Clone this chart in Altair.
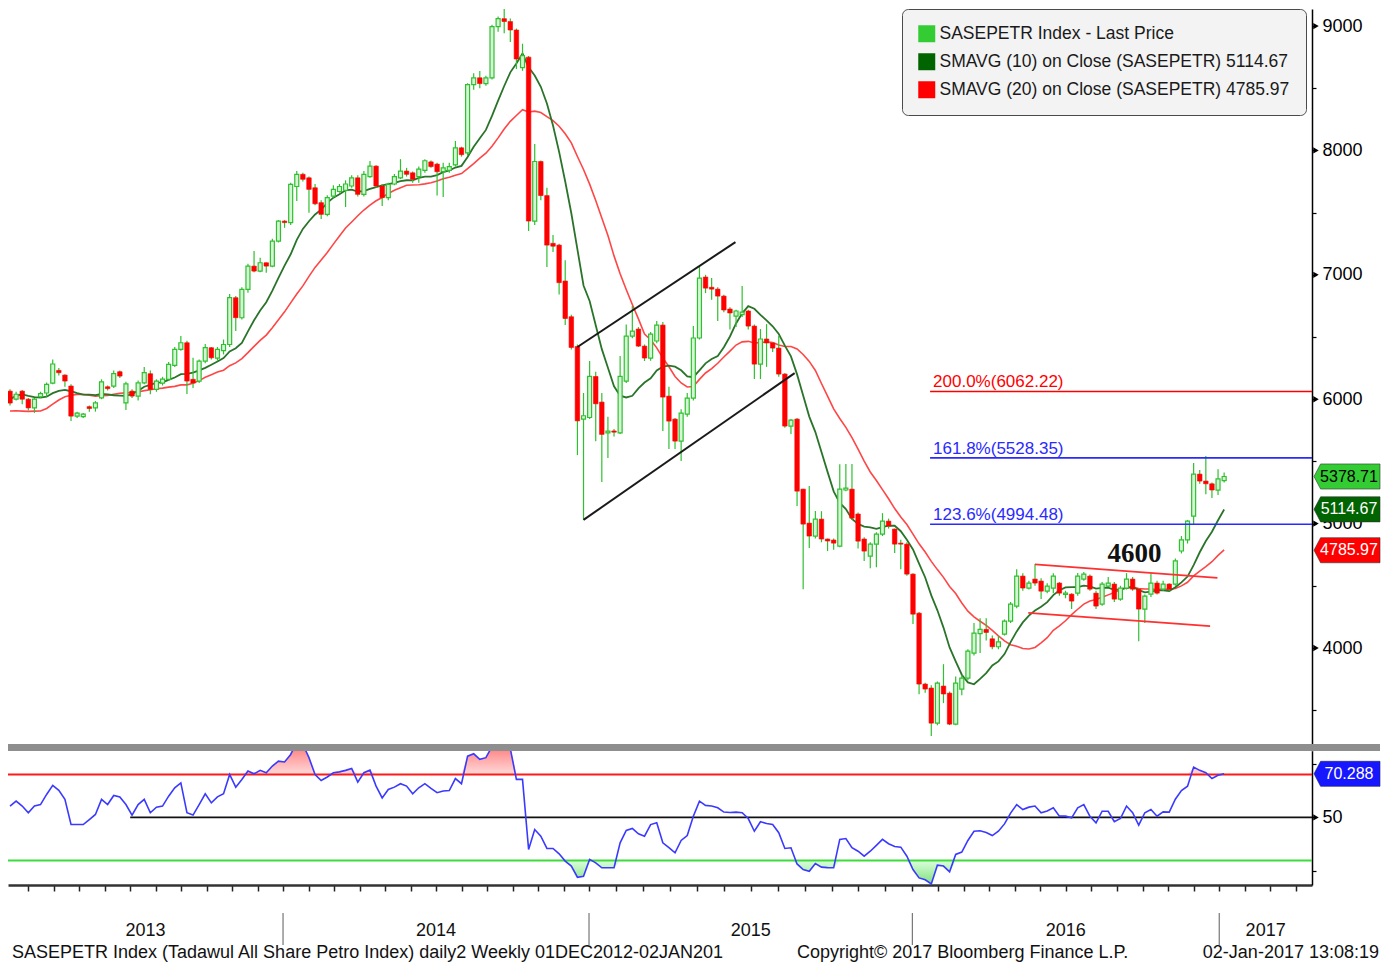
import altair as alt
import pandas as pd

# ---------------- values ----------------
open_ = [
    6065, 6000, 6065, 6000, 5930, 6020, 6050, 6130, 6232, 6194,
    6106, 5864, 5860, 5940, 5931, 6011, 6100, 6106, 6221, 5971,
    6065, 6025, 6132, 6205, 6079, 6130, 6160, 6272, 6400, 6454,
    6160, 6146, 6307, 6414, 6330, 6390, 6440, 6816, 6655, 6883,
    7070, 7030, 7097, 7070, 7271, 7432, 7420, 7710, 7808, 7780,
    7700, 7580, 7486, 7633, 7670, 7680, 7714, 7780, 7647, 7790,
    7874, 7714, 7620, 7730, 7780, 7834, 7820, 7790, 7840, 7908,
    7890, 7830, 7840, 7884, 8021, 7980, 8529, 8584, 8537, 8584,
    8995, 9059, 9036, 8968, 8665, 8750, 7432, 7911, 7637, 7253,
    7239, 6950, 6663, 6424, 5840, 5853, 6183, 5977, 5730, 5745,
    5730, 6146, 6508, 6564, 6427, 6331, 6468, 6596, 6025, 5840,
    5663, 5880, 6009, 6492, 6982, 6900, 6885, 6829, 6725, 6668,
    6680, 6709, 6588, 6282, 6484, 6452, 6411, 6202, 5784, 5840,
    5277, 5004, 4900, 5036, 4876, 4868, 4819, 5270, 5277, 5077,
    4876, 4739, 4835, 4916, 5020, 4956, 4843, 4835, 4594, 4280,
    3710, 3678, 3396, 3694, 3637, 3388, 3670, 3758, 3959, 4115,
    4150, 4074, 4010, 4112, 4216, 4337, 4578, 4482, 4554, 4538,
    4457, 4482, 4522, 4430, 4433, 4441, 4554, 4578, 4441, 4353,
    4498, 4514, 4393, 4482, 4554, 4473, 4313, 4433, 4522, 4473,
    4514, 4514, 4780, 4870, 5060, 5398, 5342, 5320, 5270, 5345,
]
high = [
    6080, 6060, 6075, 6010, 6010, 6060, 6135, 6320, 6250, 6200,
    6120, 5900, 5890, 5950, 5985, 6160, 6110, 6230, 6230, 6140,
    6080, 6150, 6260, 6230, 6160, 6180, 6300, 6420, 6508, 6470,
    6333, 6320, 6443, 6420, 6420, 6480, 6845, 6830, 6900, 7090,
    7191, 7137, 7100, 7290, 7440, 7440, 7740, 7834, 7820, 7790,
    7730, 7600, 7640, 7720, 7730, 7760, 7800, 7800, 7834, 7915,
    7880, 7730, 7740, 7810, 7930, 7860, 7830, 7870, 7930, 7920,
    7900, 7900, 7900, 8075, 8030, 8540, 8620, 8638, 8600, 9010,
    9077, 9140, 9060, 8980, 8858, 8760, 8051, 7920, 7700, 7321,
    7250, 7118, 6680, 6440, 6050, 6307, 6220, 6050, 5860, 5760,
    6347, 6600, 6749, 6580, 6440, 6540, 6628, 6620, 6100, 5850,
    5920, 6049, 6588, 7070, 7000, 6974, 6900, 6840, 6740, 6720,
    6910, 6720, 6600, 6564, 6604, 6460, 6508, 6210, 5840, 5850,
    5280, 5302, 5101, 5100, 4880, 4880, 5478, 5480, 5480, 5090,
    4890, 4850, 4930, 5084, 5040, 4960, 4870, 4850, 4600, 4290,
    3720, 3700, 3730, 3870, 3650, 3770, 3780, 3990, 4200, 4240,
    4240, 4100, 4100, 4230, 4370, 4634, 4600, 4540, 4675, 4560,
    4520, 4600, 4530, 4460, 4440, 4602, 4610, 4590, 4460, 4530,
    4570, 4530, 4500, 4602, 4570, 4480, 4430, 4600, 4540, 4540,
    4520, 4720, 4900, 5030, 5487, 5430, 5543, 5330, 5438, 5410,
]
low = [
    5950, 5990, 5960, 5910, 5890, 6010, 6020, 6120, 6190, 6100,
    5824, 5850, 5850, 5900, 5900, 6000, 6070, 6090, 6170, 5913,
    6010, 5990, 6120, 6040, 6060, 6110, 6150, 6260, 6390, 6041,
    6090, 6130, 6290, 6320, 6310, 6360, 6420, 6548, 6640, 6856,
    7020, 7020, 7017, 7060, 7260, 7378, 7400, 7593, 7750, 7499,
    7560, 7448, 7470, 7620, 7660, 7545, 7700, 7630, 7630, 7780,
    7700, 7553, 7600, 7720, 7770, 7790, 7740, 7740, 7820, 7860,
    7637, 7625, 7820, 7870, 7950, 7960, 8488, 8500, 8520, 8570,
    8954, 8943, 8871, 8654, 8640, 7352, 7400, 7600, 7062, 7183,
    6841, 6596, 6400, 5551, 5030, 5840, 5663, 5334, 5527, 5700,
    5720, 6130, 6490, 6420, 6307, 6310, 6450, 5744, 5599, 5600,
    5503, 5860, 5990, 6480, 6853, 6800, 6628, 6700, 6560, 6580,
    6660, 6560, 6162, 6162, 6260, 6380, 6180, 5770, 5720, 5141,
    4473, 4803, 4880, 4850, 4779, 4790, 4810, 5260, 5030, 4800,
    4699, 4642, 4650, 4900, 4960, 4763, 4634, 4580, 4192, 3629,
    3640, 3292, 3380, 3557, 3380, 3380, 3620, 3740, 3940, 3959,
    4060, 3990, 3990, 4100, 4200, 4320, 4460, 4470, 4500, 4393,
    4440, 4440, 4420, 4400, 4313, 4420, 4540, 4460, 4313, 4340,
    4490, 4370, 4380, 4470, 4460, 4055, 4200, 4410, 4430, 4460,
    4460, 4500, 4760, 4840, 4996, 5320, 5237, 5205, 5230, 5330,
]
close = [
    5969, 6040, 6000, 5930, 6000, 6045, 6120, 6283, 6213, 6146,
    5864, 5889, 5880, 5925, 5971, 6140, 6085, 6205, 6186, 6124,
    6025, 6132, 6213, 6079, 6146, 6162, 6280, 6400, 6454, 6146,
    6130, 6307, 6414, 6333, 6400, 6440, 6816, 6655, 6883, 7070,
    7030, 7097, 7070, 7271, 7432, 7420, 7727, 7808, 7768, 7687,
    7571, 7486, 7620, 7687, 7710, 7730, 7780, 7647, 7808, 7874,
    7714, 7620, 7727, 7790, 7834, 7808, 7768, 7850, 7917, 7870,
    7829, 7860, 7870, 8021, 7966, 8529, 8584, 8537, 8584, 8995,
    9059, 9036, 8968, 8735, 8762, 7432, 7911, 7637, 7239, 7230,
    6937, 6649, 6416, 5826, 5867, 6183, 5963, 5717, 5744, 5735,
    6183, 6508, 6548, 6427, 6331, 6524, 6596, 6017, 5824, 5663,
    5888, 6009, 6492, 6974, 6893, 6885, 6829, 6717, 6693, 6709,
    6700, 6588, 6282, 6484, 6452, 6411, 6202, 5784, 5832, 5261,
    4996, 4900, 5036, 4876, 4860, 4843, 5277, 5285, 5044, 4859,
    4779, 4835, 4916, 5020, 4980, 4835, 4835, 4594, 4272, 3710,
    3670, 3396, 3718, 3630, 3388, 3718, 3758, 3975, 4120, 4150,
    4125, 4010, 4050, 4216, 4353, 4578, 4482, 4522, 4522, 4457,
    4498, 4578, 4441, 4441, 4377, 4578, 4594, 4473, 4337, 4514,
    4522, 4393, 4482, 4554, 4473, 4313, 4417, 4522, 4441, 4514,
    4473, 4700, 4870, 5020, 5398, 5342, 5320, 5270, 5360, 5378.71,
]
# weeks before the first visible candle (Dec 2012 - Feb 2013), estimated so that
# the moving averages start where the picture shows them
prior_close = [6000, 6050, 5980, 5950, 6035, 5700, 5600, 5550, 5620, 5615,
               5750, 5900, 6050, 6100, 6080, 6050, 6000, 6030, 6070]
rsi = [
    55.3, 57.6, 55.3, 52.2, 55.3, 56.0, 60.7, 64.9, 62.6, 58.4,
    46.7, 46.7, 46.7, 49.0, 51.4, 58.4, 56.0, 60.2, 59.5, 56.0,
    51.1, 56.0, 58.4, 52.2, 54.8, 55.3, 59.9, 63.8, 66.1, 52.2,
    51.1, 56.0, 61.0, 56.8, 59.6, 61.0, 70.0, 64.1, 67.7, 71.6,
    70.3, 71.9, 70.8, 73.9, 76.2, 75.8, 79.3, 85.0, 84.0, 77.8,
    70.0, 67.2, 68.8, 70.8, 71.2, 71.9, 72.8, 66.4, 70.8, 72.0,
    64.6, 59.1, 63.0, 64.1, 65.7, 64.6, 61.0, 63.8, 65.7, 63.5,
    61.5, 62.3, 62.5, 68.1, 65.7, 78.5, 79.6, 77.0, 77.8, 83.0,
    86.0, 85.0, 82.0, 67.7, 67.7, 35.1, 44.4, 41.3, 35.6, 35.6,
    33.1, 29.7, 27.4, 22.2, 22.7, 30.5, 28.9, 26.6, 26.6, 26.6,
    38.2, 44.0, 44.9, 42.4, 41.3, 46.7, 47.5, 38.2, 36.0, 33.6,
    39.3, 41.6, 50.6, 57.6, 55.6, 55.3, 54.5, 52.5, 52.3, 52.5,
    52.2, 49.5, 43.6, 48.0, 47.2, 46.7, 42.9, 35.6, 35.9, 28.4,
    25.8, 25.0, 28.6, 26.9, 26.7, 26.6, 39.8, 40.2, 36.0, 34.3,
    32.0, 34.3, 37.0, 39.8, 37.8, 36.5, 36.2, 32.0, 25.8, 21.9,
    21.0, 19.1, 27.8, 27.4, 24.7, 32.8, 33.9, 39.3, 43.6, 43.8,
    43.0, 41.6, 43.6, 47.0, 52.0, 56.0, 53.7, 54.8, 55.3, 52.2,
    53.0, 54.5, 50.6, 50.6, 49.8, 54.5, 56.0, 50.5, 47.5, 52.9,
    52.9, 48.0, 49.5, 55.3, 52.2, 46.4, 52.2, 53.7, 50.6, 52.6,
    52.5, 58.5, 62.5, 64.5, 73.4, 71.9, 70.8, 68.1, 69.6, 70.288,
]

year_labels = ["2013", "2014", "2015", "2016", "2017"]
year_bounds = [44.75, 94.9, 147.9, 198.2]      # bar positions of the year changes

fib_values = [6062.22, 5528.35, 4994.48]
fib_labels = ["200.0%(6062.22)", "161.8%(5528.35)", "123.6%(4994.48)"]
fib_colors = ["#ff0000", "#2a2aff", "#2a2aff"]
fib_start = 150.8

black_channel_x = [93, 94]
black_channel_y = [6420, 5030]
black_channel_x2 = [118.9, 128.6]
black_channel_y2 = [7263, 6210]
red_channel_x = [168, 166.9]
red_channel_y = [4672, 4283]
red_channel_x2 = [197.9, 196.7]
red_channel_y2 = [4564, 4176]
rsi_mid_start = 19.7

note_bar, note_value, note_text = 184.3, 4755, "4600"

last_price = 5378.71
sma10_last = 5114.67
sma20_last = 4785.97
rsi_last = 70.288

legend_names = ["SASEPETR Index - Last Price",
                "SMAVG (10) on Close (SASEPETR) 5114.67",
                "SMAVG (20) on Close (SASEPETR) 4785.97"]
legend_colors = ["#33cc33", "#006400", "#ff0000"]

price_ticks = [3500, 4000, 4500, 5000, 5500, 6000, 6500, 7000, 7500, 8000, 8500, 9000]
price_labelled = [4000, 5000, 6000, 7000, 8000, 9000]
rsi_ticks = [25, 50, 75]

footer_left = "SASEPETR Index (Tadawul All Share Petro Index) daily2  Weekly 01DEC2012-02JAN201"
footer_mid = "Copyright\u00a9 2017 Bloomberg Finance L.P."
footer_right = "02-Jan-2017 13:08:19"

# ---------------- layout ----------------
FONT = "Liberation Sans, Arial, Helvetica, sans-serif"
W, HA, HB = 1304, 742, 134
X0, X1 = -0.33, 213.4
Y0, Y1 = 3172, 9137
R0, R1 = 18.6, 80.9
TAG = "M -1 0 L -0.8 -0.38 L 1 -0.38 L 1 0.38 L -0.8 0.38 Z"

xs = alt.Scale(domain=[X0, X1], nice=False, zero=False, padding=0)
ys = alt.Scale(domain=[Y0, Y1], nice=False, zero=False, padding=0)
rs = alt.Scale(domain=[R0, R1], nice=False, zero=False, padding=0)

price_axis = alt.Axis(orient="right", values=price_ticks,
                      labelExpr="datum.value % 1000 == 0 ? '' + datum.value : ''",
                      tickSize=4, tickColor="#000", tickWidth=1.2,
                      domainColor="#000", domainWidth=1.5, labelPadding=6,
                      labelFont=FONT, labelFontSize=18, labelColor="#000",
                      grid=False, title=None)

spans = [year_bounds[i + 1] - year_bounds[i] for i in range(3)]
month_ticks = []
t = year_bounds[0] - spans[0] / 12
while t > X0:
    month_ticks.append(round(t, 3))
    t -= spans[0] / 12
for i in range(3):
    for k in range(12):
        month_ticks.append(round(year_bounds[i] + k * spans[i] / 12, 3))
t = year_bounds[3]
while t < X1:
    month_ticks.append(round(t, 3))
    t += spans[2] / 12
month_ticks = sorted(month_ticks)

x_axis = alt.Axis(values=month_ticks, labels=False, tickSize=6, tickWidth=1.5,
                  tickColor="#222", domainColor="#333", domainWidth=2.5,
                  grid=False, title=None, orient="bottom")
rsi_axis = alt.Axis(orient="right", values=rsi_ticks,
                    labelExpr="datum.value == 50 ? '50' : ''",
                    tickSize=4, tickColor="#000", tickWidth=1.2, domainColor="#000",
                    domainWidth=1.5, labelPadding=6, labelFont=FONT, labelFontSize=18,
                    labelColor="#000", grid=False, title=None)


def PX(f):          # x in the price panel (no x axis there)
    return alt.X(f, scale=xs, axis=None)


def PY(f):          # y in the price panel, every layer carries the same axis
    return alt.Y(f, scale=ys, axis=price_axis)


def RX(f):          # x in the RSI panel
    return alt.X(f, scale=xs, axis=x_axis)


def RY(f):          # y in the RSI panel
    return alt.Y(f, scale=rs, axis=rsi_axis)


n = len(close)
cdf = pd.DataFrame({"bar": list(range(n)), "open": open_, "high": high,
                    "low": low, "close": close})
mdf = pd.DataFrame({"bar": list(range(-len(prior_close), 0)) + list(range(n)),
                    "close": prior_close + close})

ma_base = (alt.Chart(mdf)
           .transform_window(ma10="mean(close)", frame=[-9, 0], sort=[alt.SortField("bar")])
           .transform_window(ma20="mean(close)", frame=[-19, 0], sort=[alt.SortField("bar")])
           .transform_filter("datum.bar >= 0"))
ma20_line = ma_base.mark_line(color="#ff4646", strokeWidth=1.6, clip=True).encode(
    x=PX("bar:Q"), y=PY("ma20:Q"))
ma10_line = ma_base.mark_line(color="#2a742a", strokeWidth=1.8, clip=True).encode(
    x=PX("bar:Q"), y=PY("ma10:Q"))

wicks = alt.Chart(cdf).mark_rule(color="#2fc02f", strokeWidth=1.2, clip=True).encode(
    x=PX("bar:Q"), y=PY("low:Q"), y2="high:Q")
up_bodies = (alt.Chart(cdf).transform_filter("datum.close >= datum.open")
             .mark_bar(size=4, fill="#d6f5d6", stroke="#2fc02f", strokeWidth=1.2, clip=True)
             .encode(x=PX("bar:Q"), y=PY("open:Q"), y2="close:Q"))
down_bodies = (alt.Chart(cdf).transform_filter("datum.close < datum.open")
               .mark_bar(size=4.5, fill="#ff0000", stroke="#ff0000", strokeWidth=0.6, clip=True)
               .encode(x=PX("bar:Q"), y=PY("open:Q"), y2="close:Q"))

bch = pd.DataFrame({"x": black_channel_x, "y": black_channel_y,
                    "x2": black_channel_x2, "y2": black_channel_y2})
black_lines = alt.Chart(bch).mark_rule(color="#1a1a1a", strokeWidth=2, clip=True).encode(
    x=PX("x:Q"), y=PY("y:Q"), x2="x2:Q", y2="y2:Q")
rch = pd.DataFrame({"x": red_channel_x, "y": red_channel_y,
                    "x2": red_channel_x2, "y2": red_channel_y2})
red_lines = alt.Chart(rch).mark_rule(color="#ff3030", strokeWidth=1.8, clip=True).encode(
    x=PX("x:Q"), y=PY("y:Q"), x2="x2:Q", y2="y2:Q")

fdf = pd.DataFrame({"value": fib_values, "label": fib_labels, "color": fib_colors,
                    "x0": [fib_start] * 3, "x1": [X1] * 3})
fib_rules = alt.Chart(fdf).mark_rule(strokeWidth=1.6, clip=True).encode(
    x=PX("x0:Q"), x2="x1:Q", y=PY("value:Q"), color=alt.Color("color:N", scale=None))
fib_text = alt.Chart(fdf).mark_text(font=FONT, fontSize=17, align="left",
                                    baseline="alphabetic", dx=3, dy=-4).encode(
    x=PX("x0:Q"), y=PY("value:Q"), text="label:N", color=alt.Color("color:N", scale=None))

note = alt.Chart(pd.DataFrame({"bar": [note_bar], "v": [note_value], "t": [note_text]})).mark_text(
    font="Liberation Serif, Times New Roman, serif", fontWeight="bold", fontSize=27,
    color="#111").encode(x=PX("bar:Q"), y=PY("v:Q"), text="t:N")

tdf = pd.DataFrame({"value": [last_price, sma10_last, sma20_last],
                    "label": [f"{v:.2f}" for v in [last_price, sma10_last, sma20_last]],
                    "fill": ["#33cc33", "#006400", "#ff0000"],
                    "tc": ["#000000", "#ffffff", "#ffffff"]})
tags = alt.Chart(tdf).mark_point(shape=TAG, filled=True, size=4356, opacity=1,
                                 stroke="#333333", strokeWidth=0.6).encode(
    x=alt.value(W + 35), y=PY("value:Q"), color=alt.Color("fill:N", scale=None))
tag_text = alt.Chart(tdf).mark_text(font=FONT, fontSize=16, align="center",
                                    baseline="middle").encode(
    x=alt.value(W + 37), y=PY("value:Q"), text="label:N",
    color=alt.Color("tc:N", scale=None))

tri = alt.Chart(pd.DataFrame({"v": price_labelled})).mark_point(
    shape="triangle-right", filled=True, size=40, color="#000", opacity=1).encode(
    x=alt.value(W + 4), y=PY("v:Q"))

legend_layer = alt.Chart(pd.DataFrame({"series": legend_names})).mark_square(
    opacity=0, size=1).encode(
    x=alt.value(5), y=alt.value(5),
    color=alt.Color("series:N",
                    scale=alt.Scale(domain=legend_names, range=legend_colors),
                    legend=alt.Legend(orient="none", legendX=894, legendY=0, title=None,
                                      symbolType="square", symbolSize=289,
                                      symbolStrokeWidth=0, symbolOpacity=1,
                                      labelFont=FONT, labelFontSize=17.5,
                                      labelColor="#1a1a1a", labelLimit=500,
                                      rowPadding=9, padding=16,
                                      fillColor="#f3f3f3", strokeColor="#4a4a4a",
                                      cornerRadius=6)))

band = alt.Chart(pd.DataFrame({"k": [0]})).mark_rect(color="#8e8e8e").encode(
    x=alt.value(0), x2=alt.value(1372), y=alt.value(HA - 7), y2=alt.value(HA))

top = alt.layer(ma20_line, ma10_line, wicks, up_bodies, down_bodies, black_lines,
                red_lines, fib_rules, fib_text, note, tags, tag_text, tri,
                legend_layer, band).properties(width=W, height=HA)

# ---------------- RSI panel ----------------
rdf = pd.DataFrame({"bar": list(range(n)), "rsi": rsi})
rsi_base = alt.Chart(rdf).transform_calculate(
    hi="max(datum.rsi, 70)", lo="min(datum.rsi, 30)", b70="70", b30="30")

red_grad = alt.LinearGradient(gradient="linear", x1=0, x2=0, y1=0, y2=1,
                              stops=[alt.GradientStop(offset=0, color="#ff6a6a"),
                                     alt.GradientStop(offset=1, color="#ffdada")])
green_grad = alt.LinearGradient(gradient="linear", x1=0, x2=0, y1=0, y2=1,
                                stops=[alt.GradientStop(offset=0, color="#dcffdc"),
                                       alt.GradientStop(offset=1, color="#7fe07f")])
red_fill = rsi_base.mark_area(clip=True, color=red_grad).encode(
    x=RX("bar:Q"), y=RY("hi:Q"), y2="b70:Q")
green_fill = rsi_base.mark_area(clip=True, color=green_grad).encode(
    x=RX("bar:Q"), y=RY("lo:Q"), y2="b30:Q")

hl = pd.DataFrame({"v": [70, 30], "c": ["#ff1a1a", "#3ddc3d"], "x": [X0, X0], "x2": [X1, X1]})
hlines = alt.Chart(hl).mark_rule(strokeWidth=2, clip=True).encode(
    x=RX("x:Q"), x2="x2:Q", y=RY("v:Q"), color=alt.Color("c:N", scale=None))
mid = alt.Chart(pd.DataFrame({"x": [rsi_mid_start], "x2": [X1], "v": [50]})).mark_rule(
    color="#111", strokeWidth=1.7, clip=True).encode(
    x=RX("x:Q"), x2="x2:Q", y=RY("v:Q"))

rsi_line = rsi_base.mark_line(color="#3a3aff", strokeWidth=1.6, clip=True).encode(
    x=RX("bar:Q"), y=RY("rsi:Q"))

rtag_df = pd.DataFrame({"value": [rsi_last], "label": [f"{rsi_last:.3f}"]})
rtag = alt.Chart(rtag_df).mark_point(shape=TAG, filled=True, size=4356, opacity=1,
                                     color="#1616ff", stroke="#222266",
                                     strokeWidth=0.6).encode(
    x=alt.value(W + 35), y=RY("value:Q"))
rtag_text = alt.Chart(rtag_df).mark_text(font=FONT, fontSize=16, align="center",
                                         baseline="middle", color="#ffffff").encode(
    x=alt.value(W + 37), y=RY("value:Q"), text="label:N")
rtri = alt.Chart(pd.DataFrame({"v": [50]})).mark_point(
    shape="triangle-right", filled=True, size=40, color="#000", opacity=1).encode(
    x=alt.value(W + 4), y=RY("v:Q"))

edges = [X0] + year_bounds + [X1]
ydf = pd.DataFrame({"label": year_labels,
                    "mid": [(edges[i] + edges[i + 1]) / 2 for i in range(5)]})
year_text = alt.Chart(ydf).mark_text(font=FONT, fontSize=18, baseline="alphabetic",
                                     color="#111").encode(
    x=RX("mid:Q"), y=alt.value(HB + 51), text="label:N")
seps = alt.Chart(pd.DataFrame({"b": year_bounds})).mark_rule(
    color="#777777", strokeWidth=1.2).encode(
    x=RX("b:Q"), y=alt.value(HB + 28), y2=alt.value(HB + 60))

foot_df = pd.DataFrame({"l": [footer_left], "m": [footer_mid], "r": [footer_right]})
foot_l = alt.Chart(foot_df).mark_text(font=FONT, fontSize=18, align="left",
                                      baseline="alphabetic", color="#111").encode(
    x=alt.value(4), y=alt.value(HB + 73), text="l:N")
foot_m = alt.Chart(foot_df).mark_text(font=FONT, fontSize=18, align="left",
                                      baseline="alphabetic", color="#111").encode(
    x=alt.value(789), y=alt.value(HB + 73), text="m:N")
foot_r = alt.Chart(foot_df).mark_text(font=FONT, fontSize=18, align="right",
                                      baseline="alphabetic", color="#111").encode(
    x=alt.value(1371), y=alt.value(HB + 73), text="r:N")

bottom = alt.layer(red_fill, green_fill, hlines, mid, rsi_line, rtag, rtag_text, rtri,
                   year_text, seps, foot_l, foot_m, foot_r).properties(width=W, height=HB)

chart = (alt.vconcat(top, bottom, spacing=0, padding=0, background="#ffffff")
         .configure_view(stroke=None))

chart.save("out.html", embed_options={"renderer": "svg", "actions": False})
